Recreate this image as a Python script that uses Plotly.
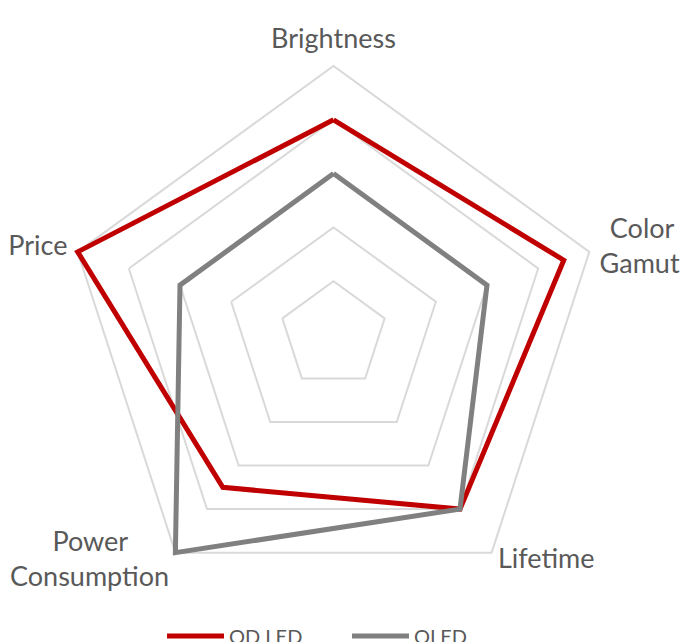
import plotly.graph_objects as go

categories = ["Brightness", "Color Gamut", "Lifetime", "Power Consumption", "Price"]
label_texts = ["Brightness", "&nbsp;&#8201;Color<br>Gamut", "Lifetime",
               "Power&nbsp;&nbsp;&nbsp;&nbsp;&nbsp;&nbsp;<br>Consumption", "Price"]
label_positions = ["top center", "middle right", "middle right", "middle left", "middle left"]
qd_led = [4, 4.5, 4, 3.5, 5]
oled = [3, 3, 4, 5, 3]
series_names = ["QD LED", "OLED"]
colors = ["#C00000", "#808080"]
grid_levels = [1, 2, 3, 4, 5]
R_MAX = 5
LABEL_R = 5.2

fig = go.Figure()
for name, vals, col in zip(series_names, [qd_led, oled], colors):
    fig.add_trace(go.Scatterpolar(
        r=vals + vals[:1],
        theta=categories + categories[:1],
        mode="lines",
        name=name,
        line=dict(color=col, width=5),
        hoverinfo="skip",
    ))

fig.add_trace(go.Scatterpolar(
    r=[LABEL_R] * len(categories),
    theta=categories,
    mode="text",
    text=label_texts,
    textposition=label_positions,
    textfont=dict(size=27, color="#595959", family="Lato, Open Sans, sans-serif"),
    cliponaxis=False,
    showlegend=False,
    hoverinfo="skip",
))

W, H = 684, 642
cx, cy, R5 = 333.5, 335, 269
R = R5 * LABEL_R / R_MAX
fig.update_layout(
    width=W, height=H,
    margin=dict(l=0, r=0, t=0, b=0, autoexpand=False),
    paper_bgcolor="white",
    plot_bgcolor="white",
    font=dict(family="Lato, Open Sans, sans-serif", color="#595959"),
    polar=dict(
        domain=dict(x=[(cx - R) / W, (cx + R) / W], y=[1 - (cy + R) / H, 1 - (cy - R) / H]),
        gridshape="linear",
        bgcolor="white",
        radialaxis=dict(range=[0, LABEL_R], tickvals=grid_levels, showticklabels=False, ticks="",
                        showline=False, gridcolor="#D9D9D9", gridwidth=1.5),
        angularaxis=dict(rotation=90, direction="clockwise", showline=False,
                         showgrid=False, showticklabels=False, ticks=""),
    ),
    legend=dict(orientation="h", x=0.5 + 5 / W, xanchor="center", y=6 / H, yanchor="middle",
                font=dict(size=20, color="#595959"), itemwidth=57, entrywidth=113,
                bgcolor="rgba(0,0,0,0)"),
)
fig.write_html("out.html", config={"displayModeBar": False},
               post_script="document.body.style.margin='0px';document.body.style.overflow='hidden';")
